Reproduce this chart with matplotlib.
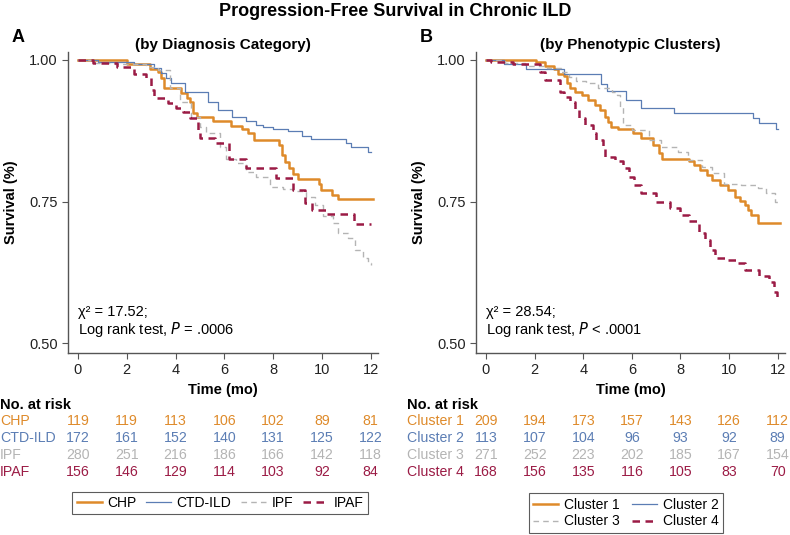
import matplotlib.pyplot as plt
import matplotlib.transforms as mtransforms

plt.rcParams['font.family'] = ['Liberation Sans', 'DejaVu Sans']

W, H = 790, 535

# --- panel A: diagnosis category ---
chp_t = [0, 2.0, 2.94, 3.3, 3.4, 3.51, 4.23, 4.45, 4.58, 4.7, 4.88, 5.53, 6.28,
         6.73, 6.97, 7.2, 8.24, 8.38, 8.47, 8.65, 8.81, 9.0, 9.9, 9.97, 10.42, 10.65, 12.1]
chp_s = [1.0, 0.992, 0.984, 0.978, 0.968, 0.95, 0.941, 0.932, 0.925, 0.906, 0.899, 0.892, 0.884,
         0.878, 0.871, 0.859, 0.85, 0.832, 0.82, 0.809, 0.799, 0.79, 0.781, 0.771, 0.762, 0.754, 0.754]

ctd_t = [0, 0.8, 2.3, 3.1, 3.4, 3.6, 3.8, 4.4, 5.33, 5.74, 6.33, 6.9, 7.28, 7.58, 8.0,
         8.6, 9.2, 9.56, 11.0, 11.2, 11.9, 12.0]
ctd_s = [1.0, 0.996, 0.992, 0.986, 0.977, 0.968, 0.959, 0.944, 0.926, 0.912, 0.899, 0.893, 0.886,
         0.881, 0.878, 0.874, 0.866, 0.86, 0.853, 0.847, 0.838, 0.838]

ipf_t = [0, 0.6, 1.5, 2.8, 3.3, 3.76, 4.17, 4.64, 4.99, 5.26, 5.81, 6.08, 6.49, 6.9, 7.31,
         7.86, 8.4, 8.81, 9.36, 9.7, 10.04, 10.45, 10.66, 11.07, 11.34, 11.68, 11.89, 12.0]
ipf_s = [1.0, 0.995, 0.993, 0.988, 0.982, 0.95, 0.926, 0.9, 0.882, 0.871, 0.847, 0.826, 0.818,
         0.803, 0.794, 0.776, 0.772, 0.768, 0.759, 0.744, 0.724, 0.712, 0.694, 0.685, 0.665,
         0.65, 0.641, 0.638]

ipaf_t = [0, 0.6, 1.6, 2.3, 2.8, 3.0, 3.1, 3.7, 4.0, 4.3, 4.6, 4.9, 5.0, 5.6, 6.2, 6.9,
          8.1, 8.8, 9.3, 9.6, 10.2, 11.3, 12.0]
ipaf_s = [1.0, 0.994, 0.988, 0.976, 0.968, 0.947, 0.932, 0.924, 0.915, 0.909, 0.897, 0.876,
          0.862, 0.853, 0.825, 0.809, 0.792, 0.771, 0.747, 0.736, 0.729, 0.711, 0.711]

# --- panel B: phenotypic clusters ---
c1_t = [0, 2.07, 2.44, 2.78, 2.98, 3.19, 3.32, 3.46, 3.66, 3.93, 4.2, 4.47, 4.68, 4.88, 5.0,
        5.15, 5.42, 6.03, 6.37, 6.85, 7.12, 7.26, 8.34, 8.54, 8.81, 9.08, 9.29, 9.63, 9.97,
        10.24, 10.44, 10.64, 10.78, 10.92, 11.19, 12.1]
c1_s = [1.0, 0.996, 0.989, 0.984, 0.976, 0.971, 0.959, 0.95, 0.944, 0.938, 0.929, 0.921, 0.912,
        0.9, 0.891, 0.882, 0.878, 0.871, 0.862, 0.85, 0.835, 0.826, 0.821, 0.815, 0.806, 0.797,
        0.788, 0.779, 0.771, 0.759, 0.751, 0.744, 0.735, 0.726, 0.713, 0.713]

c2_t = [0, 0.75, 1.63, 3.19, 4.75, 4.98, 5.76, 6.37, 7.73, 10.98, 11.25, 11.93, 12.0]
c2_s = [1.0, 0.992, 0.984, 0.975, 0.958, 0.945, 0.929, 0.916, 0.907, 0.897, 0.888, 0.878, 0.878]

c3_t = [0, 0.8, 1.6, 2.5, 3.1, 3.4, 3.7, 4.1, 4.6, 5.2, 5.37, 5.5, 5.65, 6.0, 6.7, 7.2,
        7.9, 8.3, 8.9, 9.3, 9.8, 10.5, 11.2, 11.5, 11.9, 12.0]
c3_s = [1.0, 0.995, 0.99, 0.985, 0.978, 0.97, 0.962, 0.959, 0.95, 0.944, 0.938, 0.917, 0.885,
        0.876, 0.859, 0.847, 0.838, 0.824, 0.812, 0.8, 0.782, 0.779, 0.774, 0.765, 0.75, 0.75]

c4_t = [0, 0.2, 1.1, 2.24, 2.44, 3.05, 3.2, 3.46, 3.66, 3.84, 4.07, 4.4, 4.54, 4.81, 4.88,
        5.29, 5.63, 5.9, 6.1, 6.37, 6.98, 7.59, 8.0, 8.34, 8.75, 9.02, 9.22, 9.42, 9.97,
        10.3, 10.64, 11.25, 11.66, 11.86, 11.97, 12.0]
c4_s = [1.0, 0.997, 0.993, 0.979, 0.965, 0.944, 0.935, 0.926, 0.912, 0.897, 0.885, 0.871,
        0.859, 0.847, 0.829, 0.821, 0.809, 0.794, 0.779, 0.765, 0.75, 0.738, 0.726, 0.715,
        0.694, 0.682, 0.665, 0.65, 0.647, 0.641, 0.629, 0.618, 0.609, 0.591, 0.578, 0.578]

risk_times = [0, 2, 4, 6, 8, 10, 12]
labels_a = ['CHP', 'CTD-ILD', 'IPF', 'IPAF']
risk_a = [[119, 119, 113, 106, 102, 89, 81],
          [172, 161, 152, 140, 131, 125, 122],
          [280, 251, 216, 186, 166, 142, 118],
          [156, 146, 129, 114, 103, 92, 84]]
labels_b = ['Cluster 1', 'Cluster 2', 'Cluster 3', 'Cluster 4']
risk_b = [[209, 194, 173, 157, 143, 126, 112],
          [113, 107, 104, 96, 93, 92, 89],
          [271, 252, 223, 202, 185, 167, 154],
          [168, 156, 135, 116, 105, 83, 70]]

colors = ['#DE8A2A', '#5B7DB4', '#B4B4B4', '#9B1B45']
styles = [dict(lw=1.8, ls='-'), dict(lw=0.9, ls='-'),
          dict(lw=1.0, ls=(0, (4, 3))), dict(lw=1.8, ls=(0, (3, 2.2)))]


def fx(x):
    return x / W


def fy(y):
    return 1 - y / H


fig = plt.figure(figsize=(7.9, 5.35), dpi=100)
fig.text(0.5, fy(12), 'Progression-Free Survival in Chronic ILD', ha='center', va='center',
         fontsize=13, fontweight='bold')


def panel(left, right, letter, letter_x, subtitle, curves, labels, risk, stat, label_x):
    ax = fig.add_axes([fx(left), fy(353), fx(right - left), (353 - 52) / H])
    for (t, s), c, st, lab in zip(curves, colors, styles, labels):
        ax.step(t, s, where='post', color=c, label=lab, **st)
    ax.set_xlim(-0.41, 12.3)
    ax.set_ylim(0.483, 1.014)
    ax.set_xticks(risk_times)
    ax.set_yticks([0.5, 0.75, 1.0])
    ax.set_yticklabels(['0.50', '0.75', '1.00'])
    for sp in ['top', 'right']:
        ax.spines[sp].set_visible(False)
    for sp in ['left', 'bottom']:
        ax.spines[sp].set_color('#555555')
        ax.spines[sp].set_linewidth(1.0)
    ax.tick_params(colors='#555555', labelcolor='#222222', labelsize=10.5, length=4)
    ax.set_xlabel('Time (mo)', fontsize=10.5, fontweight='bold', labelpad=4)
    ax.set_ylabel('Survival (%)', fontsize=10.5, fontweight='bold', labelpad=8)
    fig.text(fx(letter_x), fy(38), letter, fontsize=13, fontweight='bold', va='center')
    ax.set_title(subtitle, fontsize=11, fontweight='bold', pad=2)
    ax.text(0.0, 0.555, 'χ² = ' + stat[0] + ';', fontsize=10.5, va='center')
    ax.text(0.0, 0.524, 'Log rank test, $\\it{P}$ ' + stat[1], fontsize=10.5, va='center')

    tr = mtransforms.blended_transform_factory(ax.transData, fig.transFigure)
    fig.text(fx(label_x), fy(405), 'No. at risk', fontsize=10.5, fontweight='bold', va='center')
    for i, (lab, row) in enumerate(zip(labels, risk)):
        y = fy(421 + i * 17)
        fig.text(fx(label_x), y, lab, color=colors[i], fontsize=10.2, va='center')
        for t, n in zip(risk_times, row):
            ax.text(t, y, str(n), color=colors[i], fontsize=10.2, va='center',
                    ha='center', transform=tr)
    return ax


ax_a = panel(68, 378, 'A', 12, '(by Diagnosis Category)',
             [(chp_t, chp_s), (ctd_t, ctd_s), (ipf_t, ipf_s), (ipaf_t, ipaf_s)],
             labels_a, risk_a, ('17.52', '= .0006'), 0)
ax_b = panel(476, 785, 'B', 420, '(by Phenotypic Clusters)',
             [(c1_t, c1_s), (c2_t, c2_s), (c3_t, c3_s), (c4_t, c4_s)],
             labels_b, risk_b, ('28.54', '< .0001'), 407)

h, l = ax_a.get_legend_handles_labels()
leg = fig.legend(h, l, loc='center', bbox_to_anchor=(fx(220), fy(503)), ncol=4,
                 fontsize=10, frameon=True, fancybox=False, edgecolor='#333333',
                 handlelength=1.8, columnspacing=0.7, handletextpad=0.4,
                 borderpad=0.3, borderaxespad=0)
leg.get_frame().set_linewidth(0.8)
h, l = ax_b.get_legend_handles_labels()
order = [0, 2, 1, 3]
leg = fig.legend([h[i] for i in order], [l[i] for i in order], loc='center',
                 bbox_to_anchor=(fx(626), fy(513)), ncol=2,
                 fontsize=10, frameon=True, fancybox=False, edgecolor='#333333',
                 handlelength=1.8, columnspacing=0.9, handletextpad=0.4,
                 borderpad=0.3, labelspacing=0.2, borderaxespad=0)
leg.get_frame().set_linewidth(0.8)

fig.savefig('out.png', dpi=100)
